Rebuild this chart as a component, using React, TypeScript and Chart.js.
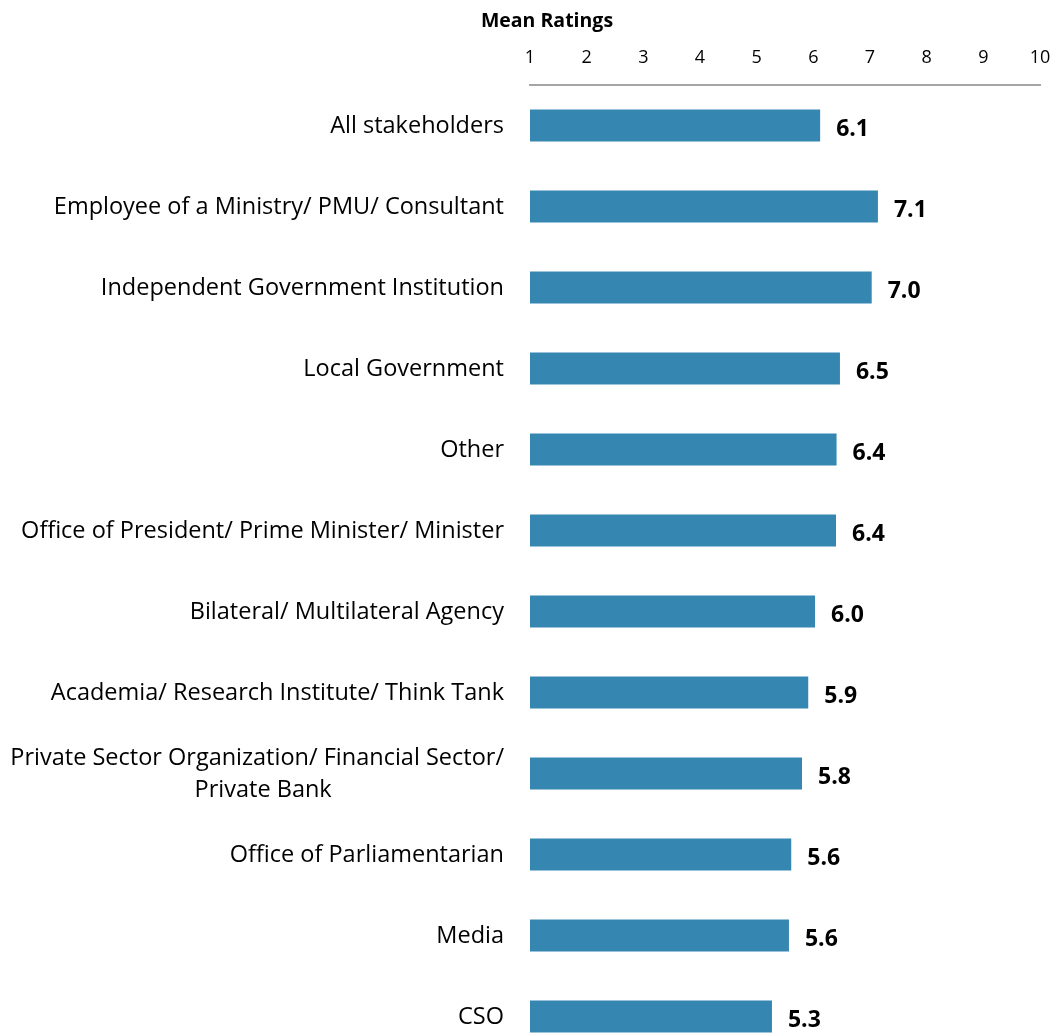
import React, { useEffect, useRef } from "react";
import { Chart, registerables } from "chart.js";

Chart.register(...registerables);

const categories: (string | string[])[] = [
  "All stakeholders",
  "Employee of a Ministry/ PMU/ Consultant",
  "Independent Government Institution",
  "Local Government",
  "Other",
  "Office of President/ Prime Minister/ Minister",
  "Bilateral/ Multilateral Agency",
  "Academia/ Research Institute/ Think Tank",
  ["Private Sector Organization/ Financial Sector/", "Private Bank"],
  "Office of Parliamentarian",
  "Media",
  "CSO",
];

const meanRatings = [6.12, 7.14, 7.03, 6.47, 6.41, 6.4, 6.03, 5.91, 5.8, 5.61, 5.57, 5.27];

const axisTitle = "Mean Ratings";
const axisMin = 1;
const axisMax = 10;

const FONT = '"Open Sans", "DejaVu Sans", sans-serif';

const labelPlugin = {
  id: "customLabels",
  afterDraw(chart: any) {
    const ctx = chart.ctx;
    const area = chart.chartArea;
    const yScale = chart.scales.y;
    ctx.save();
    ctx.fillStyle = "#000";
    ctx.textBaseline = "middle";
    // category labels
    ctx.font = `23.5px ${FONT}`;
    const lineH = 32;
    categories.forEach((cat, i) => {
      const lines = Array.isArray(cat) ? cat : [cat];
      const cy = yScale.getPixelForValue(i) + 1;
      const right = area.left - 26;
      const maxW = Math.max(...lines.map((l) => ctx.measureText(l).width));
      const cx = right - maxW / 2;
      ctx.textAlign = "center";
      lines.forEach((l, j) => {
        ctx.fillText(l, cx + (j > 0 ? 6 : 0), cy + (j - (lines.length - 1) / 2) * lineH);
      });
    });
    // value labels
    ctx.font = `bold 23px ${FONT}`;
    ctx.textAlign = "left";
    const meta = chart.getDatasetMeta(0);
    meta.data.forEach((bar: any, i: number) => {
      ctx.fillText(meanRatings[i].toFixed(1), bar.x + 16, bar.y + 4);
    });
    // axis title
    ctx.font = `bold 19.5px ${FONT}`;
    ctx.textAlign = "center";
    ctx.fillText(axisTitle, area.left + 17, 21);
    ctx.restore();
  },
};

export default function App() {
  const canvasRef = useRef<HTMLCanvasElement | null>(null);

  useEffect(() => {
    if (!canvasRef.current) return;
    const chart = new Chart(canvasRef.current, {
      type: "bar",
      data: {
        labels: categories.map((c) => (Array.isArray(c) ? c.join(" ") : c)),
        datasets: [
          {
            data: meanRatings,
            base: axisMin,
            backgroundColor: "#3686b2",
            borderWidth: 0,
            categoryPercentage: 1,
            barPercentage: 0.395,
          } as any,
        ],
      },
      options: {
        indexAxis: "y",
        responsive: false,
        animation: false,
        devicePixelRatio: 1,
        layout: { padding: { left: 530, right: 14, top: 0, bottom: 8 } },
        plugins: {
          legend: { display: false },
          tooltip: { enabled: false },
          title: { display: false },
        },
        scales: {
          x: {
            type: "linear",
            position: "top",
            min: axisMin,
            max: axisMax,
            afterFit: (scale: any) => {
              scale.height = 85;
              scale.paddingLeft = 0;
              scale.paddingRight = 0;
            },
            ticks: {
              stepSize: 1,
              padding: 16,
              color: "#000",
              font: { family: FONT, size: 18 },
            },
            grid: { display: false, drawTicks: false },
            border: { display: true, color: "#a6a6a6", width: 2 },
          },
          y: {
            type: "category",
            display: false,
          },
        },
      },
      plugins: [labelPlugin],
    });
    return () => chart.destroy();
  }, []);

  return (
    <div
      style={{
        position: "fixed",
        left: 0,
        top: 0,
        width: 1054,
        height: 1033,
        overflow: "hidden",
        background: "#fff",
      }}
    >
      <canvas ref={canvasRef} width={1054} height={1065} style={{ display: "block" }} />
    </div>
  );
}
